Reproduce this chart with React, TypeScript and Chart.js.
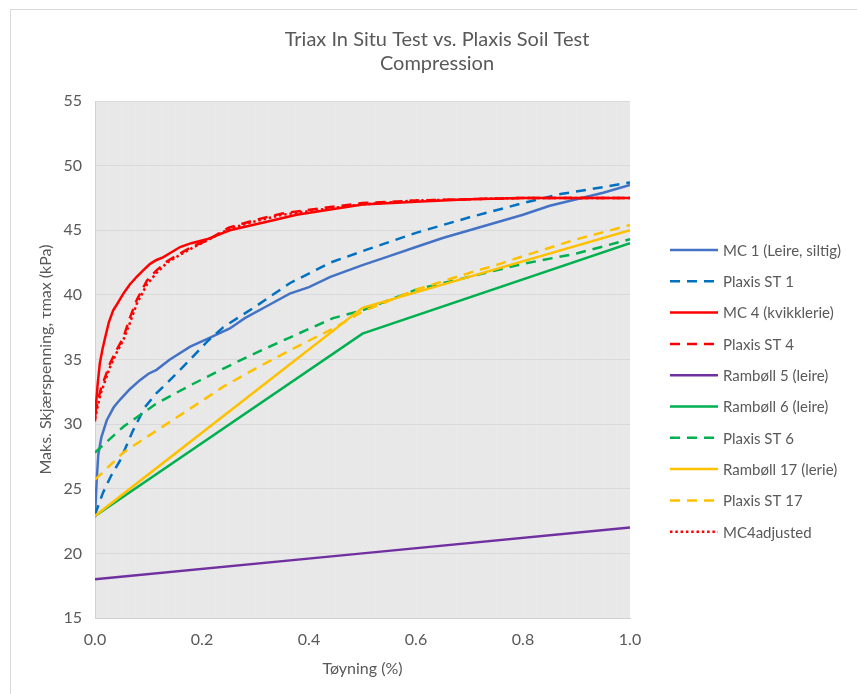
import React, { useEffect, useRef } from "react";
import { Chart, registerables } from "chart.js";

Chart.register(...registerables);

// Strain (%) and max shear stress (kPa) for each test series
const mc1Strain = [0, 0.003, 0.006, 0.012, 0.022, 0.035, 0.047, 0.065, 0.084, 0.1, 0.115, 0.14, 0.178, 0.21, 0.252, 0.28, 0.32, 0.364, 0.4, 0.44, 0.5, 0.55, 0.6, 0.65, 0.7, 0.75, 0.8, 0.85, 0.9, 0.95, 1.0];
const mc1Stress = [22.8, 25.5, 27.6, 29.0, 30.3, 31.3, 31.9, 32.7, 33.4, 33.9, 34.2, 35.0, 36.0, 36.6, 37.4, 38.2, 39.1, 40.1, 40.6, 41.4, 42.3, 43.0, 43.7, 44.4, 45.0, 45.6, 46.2, 46.9, 47.4, 47.9, 48.5];

const st1Strain = [0, 0.015, 0.03, 0.047, 0.071, 0.093, 0.115, 0.14, 0.178, 0.21, 0.24, 0.3, 0.364, 0.44, 0.508, 0.6, 0.7, 0.8, 0.87, 0.93, 1.0];
const st1Stress = [23.0, 24.7, 26.0, 27.2, 29.5, 31.3, 32.4, 33.4, 35.0, 36.4, 37.5, 39.1, 40.9, 42.5, 43.5, 44.8, 46.0, 47.1, 47.8, 48.2, 48.7];

const mc4Strain = [0, 0.002, 0.005, 0.009, 0.014, 0.019, 0.026, 0.034, 0.043, 0.053, 0.065, 0.078, 0.09, 0.103, 0.115, 0.127, 0.143, 0.159, 0.18, 0.209, 0.252, 0.315, 0.377, 0.44, 0.5, 0.6, 0.7, 0.8, 0.9, 1.0];
const mc4Stress = [30.2, 31.6, 33.1, 34.7, 35.8, 36.7, 37.9, 38.8, 39.4, 40.1, 40.8, 41.4, 41.9, 42.4, 42.7, 42.9, 43.3, 43.7, 44.0, 44.3, 45.0, 45.6, 46.2, 46.6, 47.0, 47.2, 47.4, 47.5, 47.5, 47.5];

const st4Strain = [0, 0.01, 0.028, 0.04, 0.053, 0.065, 0.078, 0.097, 0.115, 0.135, 0.159, 0.185, 0.209, 0.25, 0.3, 0.35, 0.44, 0.5, 0.6, 0.7, 0.8, 0.9, 1.0];
const st4Stress = [30.8, 32.6, 34.7, 35.7, 36.7, 38.2, 39.6, 41.1, 41.9, 42.6, 43.2, 43.8, 44.2, 45.2, 45.8, 46.3, 46.8, 47.1, 47.3, 47.4, 47.5, 47.5, 47.5];

const r5Strain = [0, 0.5, 1.0];
const r5Stress = [18.0, 20.0, 22.0];

const r6Strain = [0, 0.5, 1.0];
const r6Stress = [22.9, 37.0, 44.0];

const st6Strain = [0, 0.053, 0.115, 0.178, 0.24, 0.3, 0.364, 0.445, 0.5, 0.6, 0.7, 0.8, 0.9, 1.0];
const st6Stress = [27.8, 29.8, 31.6, 33.0, 34.3, 35.5, 36.7, 38.2, 38.8, 40.4, 41.4, 42.4, 43.2, 44.3];

const r17Strain = [0, 0.5, 1.0];
const r17Stress = [22.9, 39.0, 45.0];

const st17Strain = [0, 0.053, 0.115, 0.178, 0.24, 0.3, 0.364, 0.445, 0.5, 0.6, 0.7, 0.757, 0.8, 0.9, 1.0];
const st17Stress = [25.7, 27.8, 29.5, 31.2, 32.9, 34.3, 35.7, 37.4, 38.7, 40.4, 41.7, 42.4, 43.0, 44.3, 45.4];

const mc4aStrain = [0, 0.01, 0.028, 0.04, 0.053, 0.065, 0.078, 0.097, 0.115, 0.135, 0.159, 0.185, 0.209, 0.25, 0.3, 0.35, 0.44, 0.5, 0.6, 0.7, 0.8, 0.9, 1.0];
const mc4aStress = [30.4, 32.3, 34.4, 35.5, 36.5, 37.8, 39.3, 40.8, 41.7, 42.5, 43.1, 43.7, 44.2, 45.1, 45.7, 46.2, 46.7, 47.0, 47.3, 47.4, 47.5, 47.5, 47.5];

const titleLines = ["Triax In Situ Test vs. Plaxis Soil Test", "Compression"];
const xAxisTitle = "Tøyning (%)";
const yAxisTitle = "Maks. Skjærspenning, τmax (kPa)";

const FONT = "Lato, 'Open Sans', sans-serif";
const TEXT = "#595959";
const DASH = [10, 7];
const DOT = [2.5, 2.8];

type Series = { label: string; xs: number[]; ys: number[]; color: string; dash: number[] };

const series: Series[] = [
  { label: "MC 1 (Leire, siltig)", xs: mc1Strain, ys: mc1Stress, color: "#4472C4", dash: [] },
  { label: "Plaxis ST 1", xs: st1Strain, ys: st1Stress, color: "#0070C0", dash: DASH },
  { label: "MC 4 (kvikklerie)", xs: mc4Strain, ys: mc4Stress, color: "#FF0000", dash: [] },
  { label: "Plaxis ST 4", xs: st4Strain, ys: st4Stress, color: "#FF0000", dash: DASH },
  { label: "Rambøll 5 (leire)", xs: r5Strain, ys: r5Stress, color: "#7030A0", dash: [] },
  { label: "Rambøll 6 (leire)", xs: r6Strain, ys: r6Stress, color: "#00B050", dash: [] },
  { label: "Plaxis ST 6", xs: st6Strain, ys: st6Stress, color: "#00B050", dash: DASH },
  { label: "Rambøll 17 (lerie)", xs: r17Strain, ys: r17Stress, color: "#FFC000", dash: [] },
  { label: "Plaxis ST 17", xs: st17Strain, ys: st17Stress, color: "#FFC000", dash: DASH },
  { label: "MC4adjusted", xs: mc4aStrain, ys: mc4aStress, color: "#FF0000", dash: DOT },
];

const LINE_W = 2.5;

// Grey plot background
const plotBackground = {
  id: "plotBackground",
  beforeDraw(chart: any) {
    const { ctx, chartArea: a } = chart;
    ctx.save();
    ctx.fillStyle = "#e8e8e8";
    ctx.fillRect(a.left, a.top, a.right - a.left, a.bottom - a.top);
    ctx.restore();
  },
};

// Two-line chart title centred over the framed chart
const chartTitle = {
  id: "chartTitle",
  afterDraw(chart: any) {
    const { ctx } = chart;
    ctx.save();
    ctx.fillStyle = TEXT;
    ctx.font = `20px ${FONT}`;
    ctx.textAlign = "center";
    ctx.textBaseline = "middle";
    ctx.fillText(titleLines[0], 437, 40);
    ctx.fillText(titleLines[1], 437, 64);
    ctx.restore();
  },
};

// Legend at the right with line samples in each series' style
const sideLegend = {
  id: "sideLegend",
  afterDraw(chart: any) {
    const { ctx, chartArea: a } = chart;
    const x0 = a.right + 40;
    const sampleW = 48;
    const top = 250;
    const step = 31.3;
    ctx.save();
    ctx.font = `15px ${FONT}`;
    ctx.textBaseline = "middle";
    ctx.textAlign = "left";
    series.forEach((s, i) => {
      const y = top + i * step;
      ctx.strokeStyle = s.color;
      ctx.lineWidth = LINE_W;
      ctx.setLineDash(s.dash);
      ctx.beginPath();
      ctx.moveTo(x0, y);
      ctx.lineTo(x0 + sampleW, y);
      ctx.stroke();
      ctx.setLineDash([]);
      ctx.fillStyle = TEXT;
      ctx.fillText(s.label, x0 + sampleW + 5, y + 1);
    });
    ctx.restore();
  },
};

export default function App() {
  const canvasRef = useRef<HTMLCanvasElement | null>(null);

  useEffect(() => {
    const canvas = canvasRef.current;
    if (!canvas) return;
    const datasets = series.map((s, i) => ({
      label: s.label,
      data: s.xs.map((x, j) => ({ x, y: s.ys[j] })),
      borderColor: s.color,
      backgroundColor: s.color,
      borderWidth: LINE_W,
      borderDash: s.dash,
      showLine: true,
      pointRadius: 0,
      pointHoverRadius: 0,
      tension: 0,
      fill: false,
      order: series.length - i,
    }));

    const chart = new Chart(canvas, {
      type: "scatter",
      data: { datasets },
      plugins: [plotBackground, chartTitle, sideLegend],
      options: {
        animation: false,
        responsive: false,
        maintainAspectRatio: false,
        events: [],
        layout: { padding: { left: 10, right: 227, top: 101, bottom: 0 } },
        plugins: {
          legend: { display: false },
          title: { display: false },
          tooltip: { enabled: false },
        },
        scales: {
          x: {
            type: "linear",
            min: 0,
            max: 1,
            afterFit(scale: any) {
              scale.height = 76;
            },
            ticks: {
              stepSize: 0.025,
              autoSkip: false,
              maxRotation: 0,
              minRotation: 0,
              padding: 12,
              color: TEXT,
              font: { family: FONT, size: 16 },
              callback(v: any) {
                const n = Number(v);
                return Math.abs(n * 5 - Math.round(n * 5)) < 1e-6 ? n.toFixed(1) : "";
              },
            },
            grid: { color: "rgba(255,255,255,0.12)", drawTicks: false },
            border: { display: true, color: "#d0d0d0" },
            title: {
              display: true,
              text: xAxisTitle,
              color: TEXT,
              font: { family: FONT, size: 16 },
              padding: { top: 0, bottom: 16 },
            },
          },
          y: {
            type: "linear",
            min: 15,
            max: 55,
            afterFit(scale: any) {
              scale.width = 85;
            },
            ticks: {
              stepSize: 5,
              padding: 13,
              color: TEXT,
              font: { family: FONT, size: 16 },
            },
            grid: { color: "#d9d9d9", drawTicks: false },
            border: { display: true, color: "#d0d0d0" },
            title: {
              display: true,
              text: yAxisTitle,
              color: TEXT,
              font: { family: FONT, size: 16 },
              padding: { top: 26, bottom: 0 },
            },
          },
        },
      } as any,
    });
    return () => chart.destroy();
  }, []);

  return (
    <div
      style={{
        position: "fixed",
        left: 0,
        top: 0,
        width: 857,
        height: 694,
        overflow: "hidden",
        background: "#ffffff",
      }}
    >
      <div
        style={{
          position: "absolute",
          left: 10,
          top: 9,
          width: 900,
          height: 800,
          border: "1px solid #d9d9d9",
        }}
      />
      <canvas
        ref={canvasRef}
        width={857}
        height={694}
        style={{ position: "absolute", left: 0, top: 0, width: 857, height: 694 }}
      />
    </div>
  );
}
